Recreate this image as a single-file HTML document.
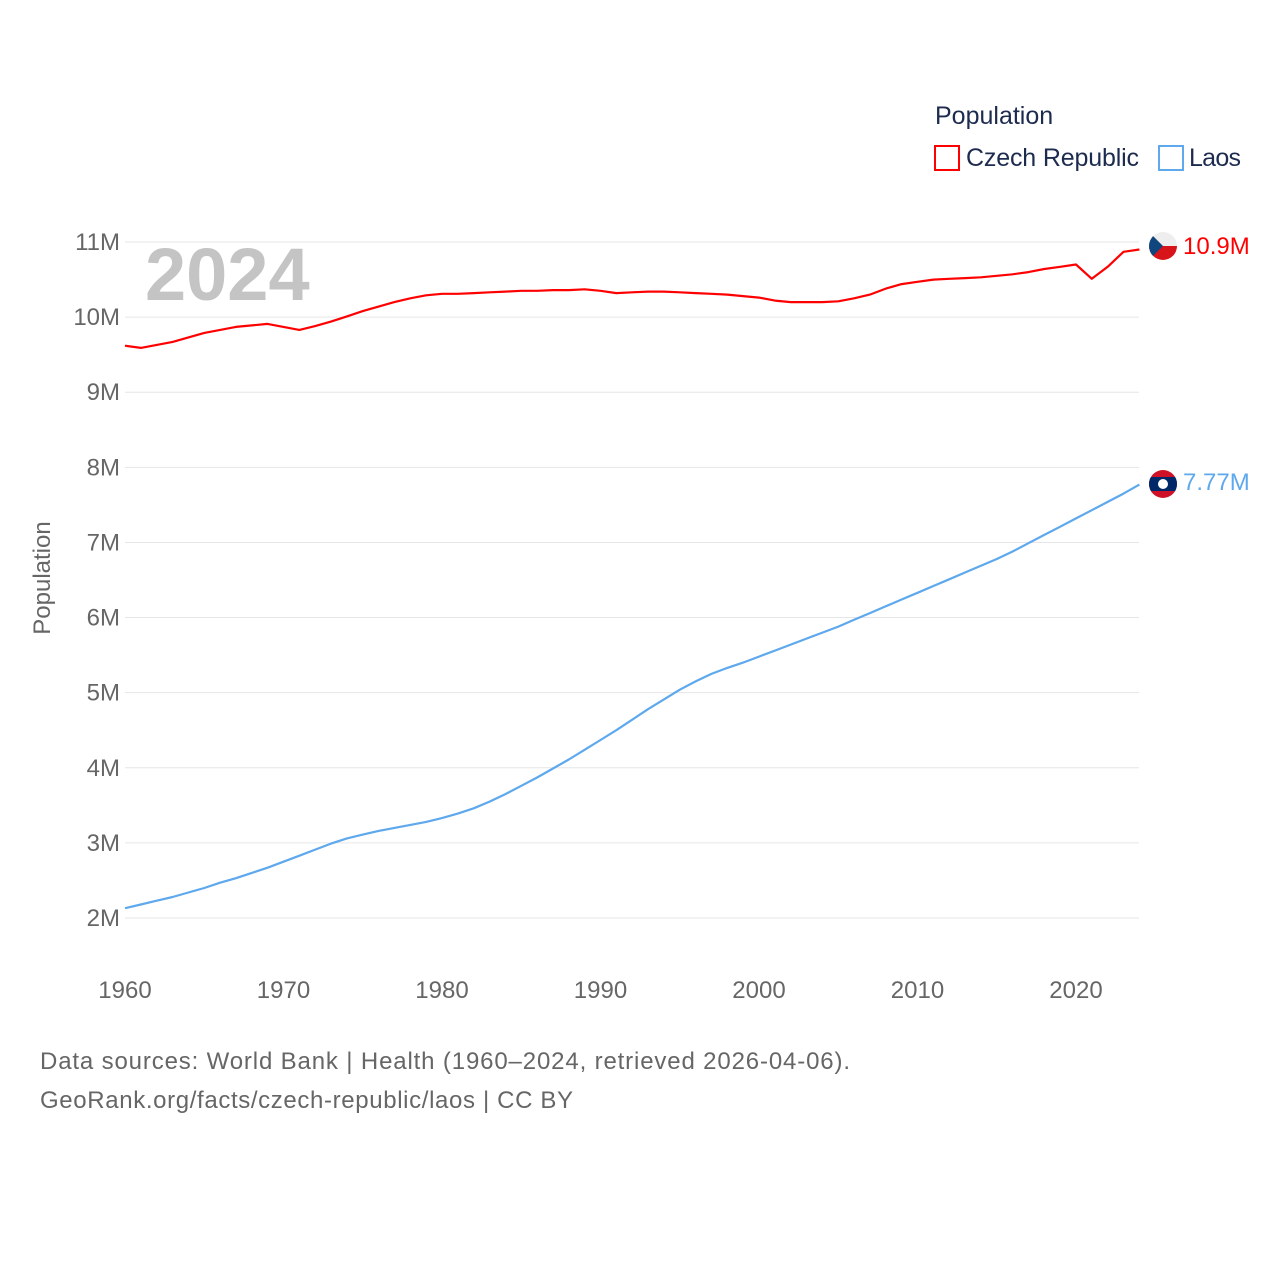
<!DOCTYPE html>
<html><head><meta charset="utf-8"><style>
body{margin:0;background:#fff;width:1280px;height:1280px;overflow:hidden;font-family:"Liberation Sans",sans-serif}
</style></head><body>
<svg width="1280" height="1280" id="chart">
<text x="935" y="124" font-size="25" fill="#1d2b4f">Population</text>
<rect x="935" y="146" width="24" height="24" fill="none" stroke="#ff0000" stroke-width="2"/>
<text x="966" y="166" font-size="25" fill="#1d2b4f" textLength="173">Czech Republic</text>
<rect x="1159" y="146" width="24" height="24" fill="none" stroke="#5ea8ed" stroke-width="2"/>
<text x="1189" y="166" font-size="25" fill="#1d2b4f" textLength="52">Laos</text>
<g id="grid"></g>
<text x="145" y="300" font-size="74" font-weight="bold" fill="#c4c4c4">2024</text>
<text transform="translate(50,578) rotate(-90)" text-anchor="middle" font-size="24" fill="#666">Population</text>
<g id="series"></g>
<g>
<clipPath id="c1"><circle cx="1163" cy="246" r="14"/></clipPath>
<g clip-path="url(#c1)"><rect x="1149" y="232" width="28" height="14" fill="#eee"/><rect x="1149" y="246" width="28" height="14" fill="#d7141a"/><polygon points="1149,232 1163,246 1149,260" fill="#11457e"/></g></g>
<g>
<clipPath id="c2"><circle cx="1163" cy="484" r="14"/></clipPath>
<g clip-path="url(#c2)"><rect x="1149" y="470" width="28" height="28" fill="#ce1126"/><rect x="1149" y="477" width="28" height="14" fill="#002868"/><circle cx="1163" cy="484" r="5" fill="#fff"/></g></g>
<text x="1183" y="254" font-size="24" fill="#ff0000">10.9M</text>
<text x="1183" y="490" font-size="24" fill="#5ea8ed">7.77M</text>
<text x="40" y="1069" font-size="24" fill="#666" textLength="810">Data sources: World Bank | Health (1960–2024, retrieved 2026-04-06).</text>
<text x="40" y="1108" font-size="24" fill="#666" textLength="533">GeoRank.org/facts/czech-republic/laos | CC BY</text>
</svg>
<script>
const years=[];for(let y=1960;y<=2024;y++)years.push(y);
const czech=[9.62,9.59,9.63,9.67,9.73,9.79,9.83,9.87,9.89,9.91,9.87,9.83,9.88,9.94,10.01,10.08,10.14,10.2,10.25,10.29,10.31,10.31,10.32,10.33,10.34,10.35,10.35,10.36,10.36,10.37,10.35,10.32,10.33,10.34,10.34,10.33,10.32,10.31,10.3,10.28,10.26,10.22,10.2,10.2,10.2,10.21,10.25,10.3,10.38,10.44,10.47,10.5,10.51,10.52,10.53,10.55,10.57,10.6,10.64,10.67,10.7,10.51,10.67,10.87,10.9];
const laos=[2.13,2.18,2.23,2.28,2.34,2.40,2.47,2.53,2.60,2.67,2.75,2.83,2.91,2.99,3.06,3.11,3.16,3.20,3.24,3.28,3.33,3.39,3.46,3.55,3.65,3.76,3.87,3.99,4.11,4.24,4.37,4.50,4.64,4.78,4.91,5.04,5.15,5.25,5.33,5.40,5.48,5.56,5.64,5.72,5.80,5.88,5.97,6.06,6.15,6.24,6.33,6.42,6.51,6.60,6.69,6.78,6.88,6.99,7.10,7.21,7.32,7.43,7.54,7.65,7.77];
const yTicks=[2,3,4,5,6,7,8,9,10,11];
const xTicks=[1960,1970,1980,1990,2000,2010,2020];
const X=v=>125+(v-1960)*15.85, Y=v=>918-(v-2)*75.11;
const NS='http://www.w3.org/2000/svg';
const grid=document.getElementById('grid'),ser=document.getElementById('series');
function mk(t,a,p){const e=document.createElementNS(NS,t);for(const k in a)e.setAttribute(k,a[k]);p.appendChild(e);return e;}
yTicks.forEach(t=>{
 const l=mk('line',{x1:125,x2:1139,y1:Y(t),y2:Y(t),stroke:'#e6e6e6','stroke-width':1},grid);
 
 
 const tx=mk('text',{x:120,y:Y(t)+8,'text-anchor':'end','font-size':24,fill:'#666'},grid);tx.textContent=t+'M';
 
 
});
xTicks.forEach(t=>{
 const tx=mk('text',{x:X(t),y:998,'text-anchor':'middle','font-size':24,fill:'#666'},grid);tx.textContent=t;
 
 
});
function line(d,c,n){
 const p=mk('path',{d:d.map((v,i)=>(i?'L':'M')+X(years[i]).toFixed(1)+','+Y(v).toFixed(1)).join(''),fill:'none',stroke:c,'stroke-width':2.2,'stroke-linejoin':'round'},ser);
 
 
}
line(czech,'#ff0000','czech-line');
line(laos,'#5ea8ed','laos-line');
</script>
</body></html>
